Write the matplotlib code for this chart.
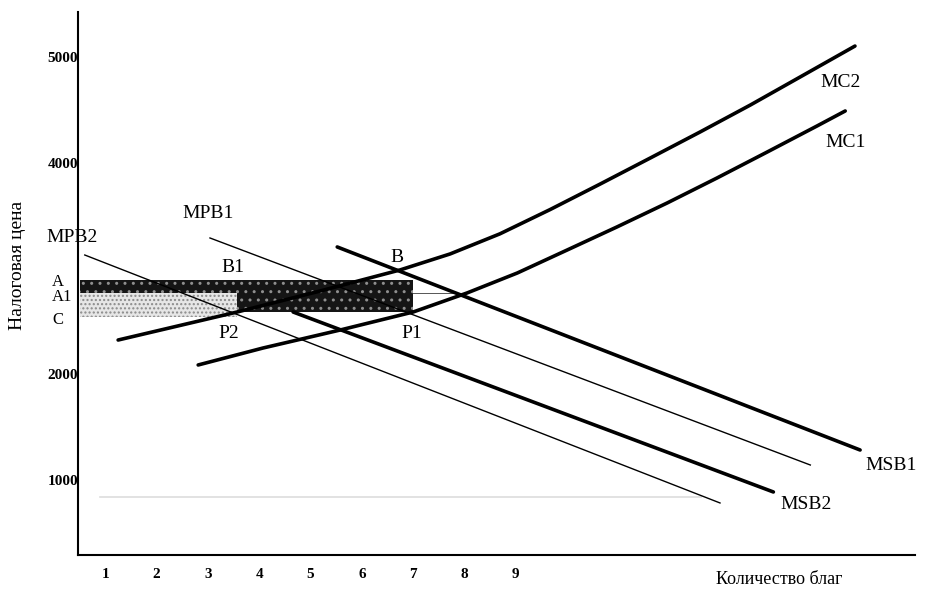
import matplotlib.pyplot as plt

plt.rcParams['font.family'] = ['Liberation Serif', 'DejaVu Serif']

# кривые (количество благ, налоговая цена)
mpb2_x = [0.60, 12.98]
mpb2_y = [3130, 785]
mpb1_x = [3.04, 14.74]
mpb1_y = [3291, 1144]
msb2_x = [4.66, 14.02]
msb2_y = [2591, 889]
msb1_x = [5.52, 15.71]
msb1_y = [3206, 1286]

mc2_x = [1.25, 3.57, 5.19, 6.74, 7.72, 8.69, 9.67, 10.64, 11.62, 12.59, 13.57, 14.54, 15.61]
mc2_y = [2326, 2591, 2790, 2988, 3140, 3330, 3560, 3800, 4047, 4293, 4548, 4813, 5106]
mc1_x = [2.81, 4.07, 5.58, 7.00, 8.05, 9.03, 10.00, 10.97, 11.95, 12.92, 13.90, 14.87, 15.42]
mc1_y = [2090, 2250, 2421, 2591, 2771, 2960, 3177, 3395, 3622, 3858, 4104, 4350, 4492]

# уровни цен
price_A = 2890
price_A1 = 2771
price_C = 2545
price_P = 2591
q_left = 0.5
q_P2 = 3.57
q_P1 = 7.00
q_A1_end = 7.91

x_ticks = [1, 2, 3, 4, 5, 6, 7, 8, 9]
y_ticks = [1000, 2000, 4000, 5000]

fig = plt.figure(figsize=(9.29, 5.95), dpi=100)
ax = fig.add_axes([78 / 929, 1 - 555 / 595, (915 - 78) / 929, (555 - 12) / 595])
ax.set_xlim(0.468, 16.78)
ax.set_ylim(293, 5428)

# заштрихованные области
ax.fill_between([q_left, q_P2], price_C, price_A1, facecolor='#e6e6e6',
                edgecolor='#8a8a8a', hatch='....', linewidth=0)
ax.fill_between([q_left, q_P2], price_A1, price_A, facecolor='#151515',
                edgecolor='#8f8f8f', hatch='..', linewidth=0)
ax.fill_between([q_P2, q_P1], price_P, price_A, facecolor='#151515',
                edgecolor='#8f8f8f', hatch='..', linewidth=0)
ax.plot([q_P1, q_A1_end], [price_A1, price_A1], color='#555555', lw=0.7)
ax.plot([0.9, 12.6], [842, 842], color='#dddddd', lw=1.2)

ax.plot(mpb2_x, mpb2_y, color='black', lw=1.0)
ax.plot(mpb1_x, mpb1_y, color='black', lw=1.0)
ax.plot(msb2_x, msb2_y, color='black', lw=2.6, solid_capstyle='round')
ax.plot(msb1_x, msb1_y, color='black', lw=2.6, solid_capstyle='round')
ax.plot(mc2_x, mc2_y, color='black', lw=2.6, solid_capstyle='round',
        solid_joinstyle='round')
ax.plot(mc1_x, mc1_y, color='black', lw=2.6, solid_capstyle='round',
        solid_joinstyle='round')

fs = 14
labels = [
    ('MPB2', -0.14, 3300), ('MPB1', 2.51, 3527), ('B1', 3.27, 3016),
    ('B', 6.55, 3111), ('P2', 3.20, 2392), ('P1', 6.78, 2392),
    ('MC2', 14.93, 4766), ('MC1', 15.03, 4198),
    ('MSB1', 15.81, 1144), ('MSB2', 14.15, 766),
]
for txt, x, y in labels:
    ax.text(x, y, txt, fontsize=fs, ha='left', va='center', clip_on=False)
for txt, y in [('A', 2875), ('A1', 2733), ('C', 2515)]:
    ax.text(-0.04, y, txt, fontsize=12, ha='left', va='center', clip_on=False)

ax.spines['top'].set_visible(False)
ax.spines['right'].set_visible(False)
ax.spines['left'].set_linewidth(1.5)
ax.spines['bottom'].set_linewidth(1.5)
ax.set_xticks(x_ticks)
ax.set_yticks(y_ticks)
ax.set_xticklabels([str(t) for t in x_ticks], fontsize=11, fontweight='bold')
ax.set_yticklabels([str(t) for t in y_ticks], fontsize=11, fontweight='bold')
ax.tick_params(axis='both', length=0)
ax.tick_params(axis='x', pad=9)
ax.tick_params(axis='y', pad=0)

fig.text(779 / 929, 1 - 580 / 595, 'Количество благ', fontsize=13,
         ha='center', va='center')
fig.text(18 / 929, 1 - 265 / 595, 'Налоговая цена', fontsize=14,
         ha='center', va='center', rotation=90)

fig.savefig('out.png', dpi=100)
